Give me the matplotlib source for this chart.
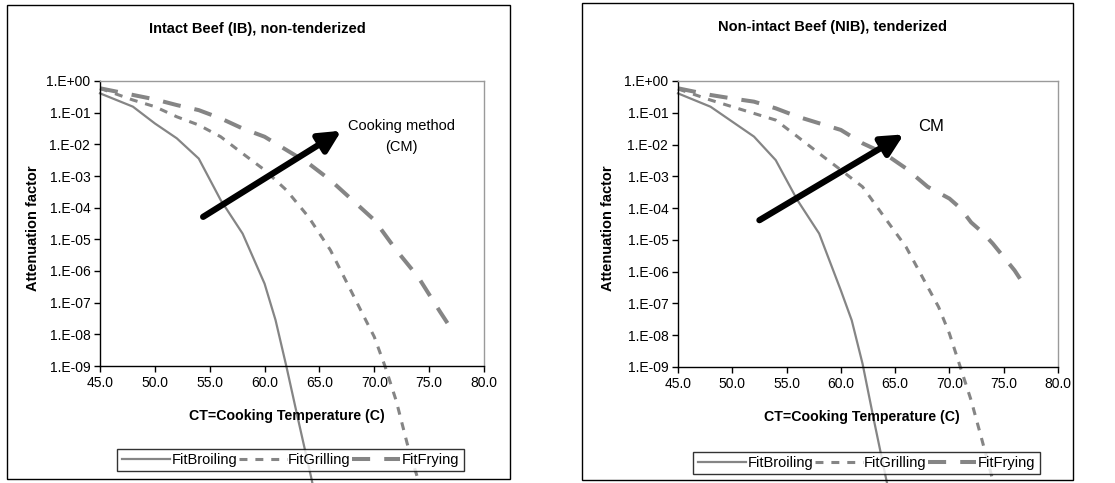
import matplotlib
matplotlib.use("Agg")
import matplotlib.pyplot as plt
from matplotlib.patches import Rectangle

plt.rcParams['font.family'] = ['Liberation Sans', 'DejaVu Sans']

# ---- data ----
titles = ["Intact Beef (IB), non-tenderized", "Non-intact Beef (NIB), tenderized"]
series_names = ["FitBroiling", "FitGrilling", "FitFrying"]
ytick_labels = ["1.E-09", "1.E-08", "1.E-07", "1.E-06", "1.E-05",
                "1.E-04", "1.E-03", "1.E-02", "1.E-01", "1.E+00"]
xtick_vals = [45.0, 50.0, 55.0, 60.0, 65.0, 70.0, 75.0, 80.0]

# left panel (IB), values as log10(attenuation)
ib_broil_t = [45, 48, 50, 52, 54, 56, 58, 60, 61, 62, 63, 64.3, 65]
ib_broil_log = [-0.39, -0.81, -1.34, -1.81, -2.45, -3.76, -4.82, -6.4, -7.55, -9.03, -10.6, -12.6, -13.8]
ib_grill_t = [45, 48, 50, 52, 54, 56, 58, 60, 62, 64, 66, 68, 69, 70, 71, 72, 73, 74, 74.5]
ib_grill_log = [-0.23, -0.6, -0.81, -1.13, -1.39, -1.76, -2.29, -2.81, -3.45, -4.29, -5.34, -6.71,
                -7.4, -8.08, -9.03, -10.1, -11.45, -12.6, -13.3]
ib_fry_t = [45, 48, 50, 52, 54, 56, 58, 60, 62, 64, 66, 68, 70, 72, 74, 76, 77]
ib_fry_log = [-0.23, -0.44, -0.58, -0.76, -0.92, -1.18, -1.5, -1.76, -2.18, -2.6, -3.13, -3.76,
              -4.39, -5.34, -6.19, -7.29, -7.82]

# right panel (NIB)
nib_broil_t = [45, 48, 50, 52, 54, 56, 58, 60, 61, 62, 63, 64.2, 65]
nib_broil_log = [-0.39, -0.81, -1.28, -1.75, -2.49, -3.75, -4.8, -6.59, -7.53, -8.9, -10.6, -12.57, -13.8]
nib_grill_t = [45, 48, 50, 52, 54, 56, 58, 60, 62, 64, 66, 68, 69, 70, 71, 72, 73, 74, 74.5]
nib_grill_log = [-0.25, -0.6, -0.81, -1.02, -1.23, -1.75, -2.28, -2.8, -3.33, -4.28, -5.22, -6.48,
                 -7.11, -7.95, -9.0, -10.05, -11.3, -12.57, -13.3]
nib_fry_t = [45, 48, 50, 52, 54, 56, 58, 60, 62, 64, 66, 68, 70, 71, 72, 73, 74, 76, 77]
nib_fry_log = [-0.23, -0.44, -0.55, -0.65, -0.86, -1.12, -1.33, -1.54, -1.96, -2.28, -2.75, -3.33,
               -3.7, -4.0, -4.45, -4.75, -5.12, -5.96, -6.48]

# arrows: (x0, log0, x1, log1), and label
ib_arrow = [54.4, -4.29, 67.0, -1.57]
nib_arrow = [52.5, -4.38, 65.8, -1.68]
arrow_texts = ["Cooking method\n(CM)", "CM"]
arrow_text_pos = [(72.5, -1.75), (68.3, -1.42)]

W, H = 1115, 483
fig = plt.figure(figsize=(W / 100, H / 100), dpi=100)
GRAY = '#858585'


def px(x, y):
    # pixel (from top-left) to figure coords
    return x / W, 1 - y / H


def frame(x0, y0, x1, y1):
    fig.patches.append(Rectangle((x0 / W, 1 - y1 / H), (x1 - x0) / W, (y1 - y0) / H,
                                 transform=fig.transFigure, fill=False, ec='black', lw=1.0, zorder=0))


def panel(box, data, arrow, atext, apos, title, tpos, xlpos, ylpos, legpos, atsize):
    l, t, r, b = box
    ax = fig.add_axes([l / W, 1 - b / H, (r - l) / W, (b - t) / H])
    (bt, bl), (gt, gl), (ft, fl) = data
    lines = []
    lines += ax.plot(bt, [10 ** v for v in bl], color=GRAY, lw=1.6, clip_on=False)
    lines += ax.plot(gt, [10 ** v for v in gl], color=GRAY, lw=2.2, dashes=(2.6, 2.6), clip_on=False)
    lines += ax.plot(ft, [10 ** v for v in fl], color=GRAY, lw=2.9, dashes=(4.5, 3.5), clip_on=False)
    ax.set_yscale('log')
    ax.set_xlim(45, 80)
    ax.set_ylim(1e-9, 1)
    ax.set_yticks([10.0 ** k for k in range(-9, 1)])
    ax.set_yticklabels(ytick_labels)
    ax.minorticks_off()
    ax.set_xticks(xtick_vals)
    ax.set_xticklabels(["%.1f" % v for v in xtick_vals])
    ax.tick_params(labelsize=10, length=4, width=1, direction='out', pad=3)
    for s in ['top', 'right']:
        ax.spines[s].set_color('#9a9a9a')
        ax.spines[s].set_linewidth(1.0)
    for s in ['left', 'bottom']:
        ax.spines[s].set_color('black')
        ax.spines[s].set_linewidth(1.0)

    ax.annotate('', xy=(arrow[2], 10 ** arrow[3]), xytext=(arrow[0], 10 ** arrow[1]),
                arrowprops=dict(arrowstyle='-|>,head_length=1.3,head_width=0.65', lw=4.5,
                                color='black', shrinkA=0, shrinkB=0), zorder=5)
    ax.text(apos[0], 10 ** apos[1], atext, ha='center', va='center', fontsize=atsize, linespacing=1.6)

    fig.text(*px(*tpos), title, ha='center', va='center', fontsize=10.5, fontweight='bold')
    fig.text(*px(*xlpos), "CT=Cooking Temperature (C)", ha='center', va='center',
             fontsize=10.2, fontweight='bold')
    fig.text(*px(*ylpos), "Attenuation factor", ha='center', va='center', rotation=90,
             fontsize=10.5, fontweight='bold')

    leg = fig.legend(lines, series_names, loc='center', bbox_to_anchor=px(*legpos), ncol=3,
                     fontsize=10.5, frameon=True, fancybox=False, edgecolor='black',
                     handlelength=3.3, handletextpad=0.1, columnspacing=0.1,
                     borderpad=0.3, borderaxespad=0)
    leg.get_frame().set_linewidth(1.0)
    leg.set_zorder(10)
    return ax


frame(7, 5, 510, 479)
frame(582, 3, 1073, 480)

panel((100, 81, 484, 366),
      [(ib_broil_t, ib_broil_log), (ib_grill_t, ib_grill_log), (ib_fry_t, ib_fry_log)],
      ib_arrow, arrow_texts[0], arrow_text_pos[0], titles[0],
      (257, 29), (287, 416), (33, 228), (290.5, 460), 10.5)
panel((678, 81, 1058, 367),
      [(nib_broil_t, nib_broil_log), (nib_grill_t, nib_grill_log), (nib_fry_t, nib_fry_log)],
      nib_arrow, arrow_texts[1], arrow_text_pos[1], titles[1],
      (832, 27), (862, 417), (608, 228), (866.5, 463), 12)

fig.savefig("out.png", dpi=100)
